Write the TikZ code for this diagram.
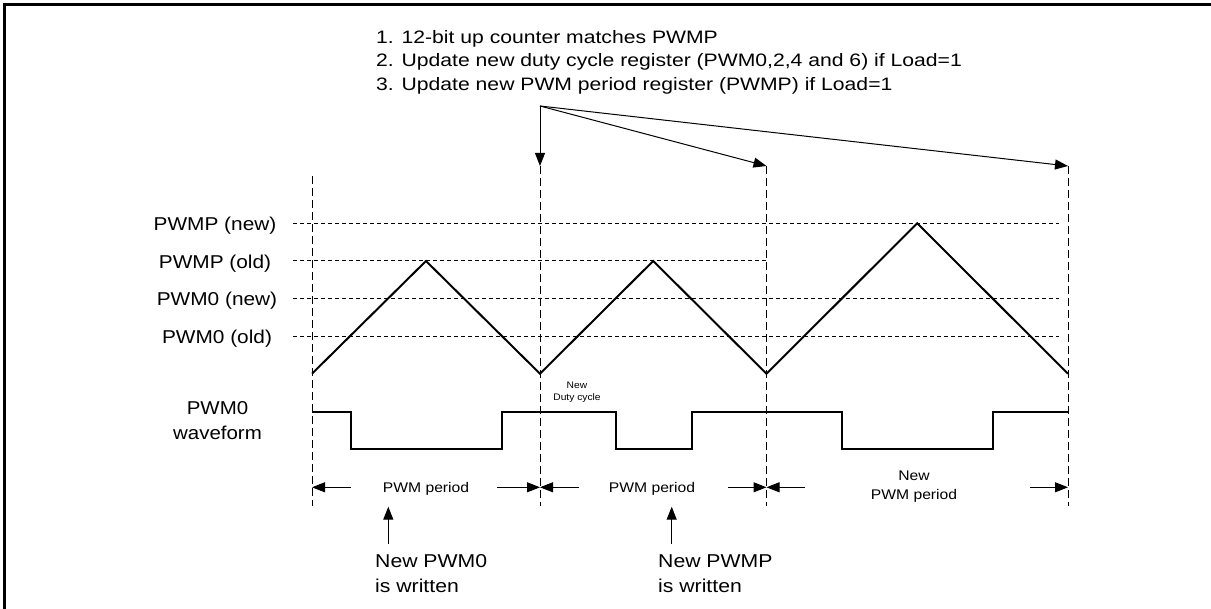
\documentclass[tikz,border=0pt]{standalone}
\usepackage{fontspec}
\setmainfont{Liberation Sans}
\usetikzlibrary{arrows.meta}
\newcommand{\sxl}[3]{\scalebox{#1}[1]{\begin{tabular}[t]{@{}#2@{}}#3\end{tabular}}}
\begin{document}
\begin{tikzpicture}[x=1pt,y=-1pt,
  lbl/.style={inner sep=0pt, anchor=base, font=\fontsize{18.6}{25}\selectfont},
  lblw/.style={inner sep=0pt, anchor=base west, font=\fontsize{18.6}{25}\selectfont},
  toptxt/.style={inner sep=0pt, anchor=base west, font=\fontsize{18}{23.5}\selectfont},
  small/.style={inner sep=0pt, anchor=base, font=\fontsize{14}{19}\selectfont},
  tinytxt/.style={inner sep=0pt, anchor=base, font=\fontsize{9.5}{12.5}\selectfont},
  wave/.style={line width=2pt, line join=miter},
  vdash/.style={line width=0.9pt, dash pattern=on 8pt off 4pt},
  hdash/.style={line width=1pt, dash pattern=on 4pt off 3pt},
  arr/.style={line width=1pt, -{Triangle[length=13pt,width=10pt]}},
  borderline/.style={line width=3pt}]
\useasboundingbox (0,0) rectangle (1211,609);
\fill[white] (0,0) rectangle (1211,609);
\draw[borderline] (4.5,609) -- (4.5,4.5) -- (1211,4.5);

% top notes
\node[toptxt] (t1) at (376,43.5) {\scalebox{1.175}[1]{1. 12-bit up counter matches PWMP}};
\node[toptxt] (t2) at (376,67) {\scalebox{1.175}[1]{2. Update new duty cycle register (PWM0,2,4 and 6) if Load=1}};
\node[toptxt] (t3) at (376,90.5) {\scalebox{1.175}[1]{3. Update new PWM period register (PWMP) if Load=1}};

\coordinate (src) at (540,106);
\coordinate (tipB) at (540,166);
\coordinate (tipC) at (766.5,166);
\coordinate (tipD) at (1068,166);
\draw[arr] (src) -- (tipB);
\draw[arr] (src) -- (tipC);
\draw[arr] (src) -- (tipD);

% vertical dashed
\draw[vdash] (312,176) -- (312,506);
\draw[vdash] (tipB) -- (540,506);
\draw[vdash] (tipC) -- (766.5,506);
\draw[vdash] (tipD) -- (1068,506);

% horizontal dashed levels
\draw[hdash] (293,223.3) -- (1059,223.3);
\draw[hdash] (293,261) -- (766.5,261);
\draw[hdash] (293,298.7) -- (1059,298.7);
\draw[hdash] (293,336.3) -- (1059,336.3);

% level labels
\node[lbl] (lpn) at (215,230.5) {\scalebox{1.12}[1]{PWMP (new)}};
\node[lbl] (lpo) at (215,268.2) {\scalebox{1.12}[1]{PWMP (old)}};
\node[lbl] (l0n) at (217,305.9) {\scalebox{1.12}[1]{PWM0 (new)}};
\node[lbl] (l0o) at (217,343.5) {\scalebox{1.12}[1]{PWM0 (old)}};

% triangle counter
\draw[wave] (312,373.7) -- (426,261) -- (540,373.7) -- (653.2,261) -- (766.5,373.7) -- (917.2,223.3) -- (1068,373.7);

% new duty cycle
\node[tinytxt] (ndc) at (577,388.5) {\sxl{1.08}{c}{New\\Duty cycle}};

% PWM0 waveform
\node[lbl] (wl) at (217.5,415) {\sxl{1.1}{c}{PWM0\\waveform}};
\draw[wave] (312,411.7) -- (350.7,411.7) -- (350.7,449.3) -- (501.7,449.3) -- (501.7,411.7)
  -- (615.7,411.7) -- (615.7,449.3) -- (691.7,449.3) -- (691.7,411.7)
  -- (841.7,411.7) -- (841.7,449.3) -- (992.7,449.3) -- (992.7,411.7) -- (1068,411.7);

% period arrows
\draw[arr] (350.7,487.3) -- (312,487.3);
\draw[arr] (497,487.3) -- (540,487.3);
\draw[arr] (579,487.3) -- (540,487.3);
\draw[arr] (728,487.3) -- (766.5,487.3);
\draw[arr] (805,487.3) -- (766.5,487.3);
\draw[arr] (1030,487.3) -- (1068,487.3);
\node[small] (p1) at (426,492.3) {\scalebox{1.12}[1]{PWM period}};
\node[small] (p2) at (652,492.3) {\scalebox{1.12}[1]{PWM period}};
\node[small] (p3) at (914,481) {\sxl{1.12}{c}{New\\PWM period}};

% written notes
\node[lblw] (w1) at (375,567.7) {\sxl{1.14}{l}{New PWM0\\is written}};
\node[lblw] (w2) at (658,567.7) {\sxl{1.14}{l}{New PWMP\\is written}};
\coordinate (w1t) at (388.3,506.7);
\coordinate (w2t) at (671.7,506.7);
\draw[arr] (388.3,544) -- (w1t);
\draw[arr] (671.7,544) -- (w2t);
\end{tikzpicture}
\end{document}
